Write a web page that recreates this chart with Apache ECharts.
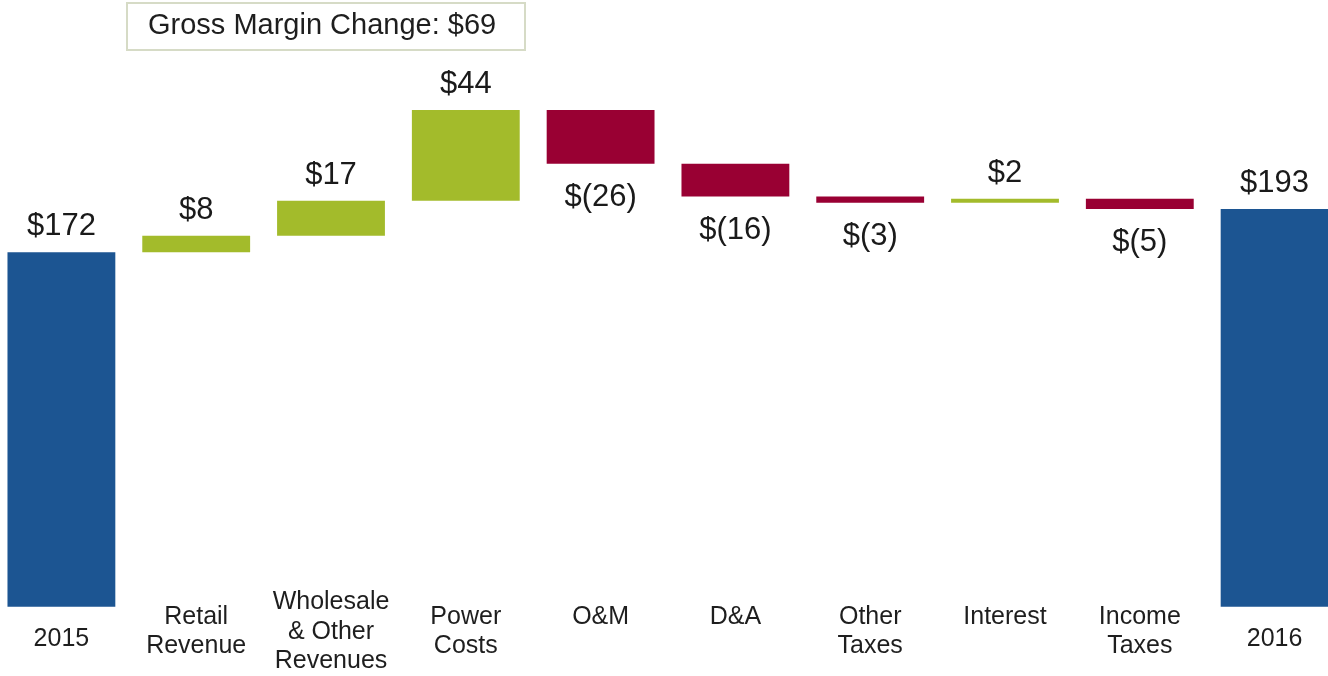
<!DOCTYPE html>
<html>
<head>
<meta charset="utf-8">
<script src="https://cdn.jsdelivr.net/npm/echarts@6/dist/echarts.min.js"></script>
<style>
  html, body { margin: 0; padding: 0; background: #fff; }
  #wrap { position: relative; width: 1328px; height: 676px; overflow: hidden; }
  /* plot is a bit wider than the window: first and last bars touch the edges */
  #box { position: absolute; left: -6px; top: 0; width: 1348px; height: 676px; }
</style>
</head>
<body>
<div id="wrap"><div id="box"></div></div>
<script>
// data
var categories = ['2015', 'Retail\nRevenue', 'Wholesale\n& Other\nRevenues', 'Power\nCosts', 'O&M', 'D&A', 'Other\nTaxes', 'Interest', 'Income\nTaxes', '2016'];
var startValue = 172;
var changes = [8, 17, 44, -26, -16, -3, 2, -5];
var endValue = 193;
var grossMarginItems = 3; // first three changes make up gross margin

var BLUE = '#1c5592', GREEN = '#a3bb2b', RED = '#990033';

// build waterfall stacks
var base = [0], visible = [startValue], colors = [BLUE], labelPos = ['top'];
var running = startValue;
changes.forEach(function (c) {
    var next = running + c;
    base.push(Math.min(running, next));
    visible.push(Math.abs(c));
    colors.push(c >= 0 ? GREEN : RED);
    labelPos.push(c >= 0 ? 'top' : 'bottom');
    running = next;
});
base.push(0);
visible.push(endValue);
colors.push(BLUE);
labelPos.push('top');

var gross = changes.slice(0, grossMarginItems).reduce(function (a, b) { return a + b; }, 0);

function money(i) {
    if (i === 0) return '$' + startValue;
    if (i === categories.length - 1) return '$' + endValue;
    var c = changes[i - 1];
    return c < 0 ? '$(' + (-c) + ')' : '$' + c;
}

// which rich style each category label uses (vertical placement)
function catStyle(v) {
    if (v === '2015' || v === '2016') return 'lo';
    if (v.indexOf('\n') < 0) return 'hi';
    return '';
}

var chart = echarts.init(document.getElementById('box'));
chart.setOption({
    animation: false,
    title: {
        text: 'Gross Margin Change: $' + gross,
        left: 133,
        top: 3,
        padding: [8, 29, 10, 21],
        borderColor: '#d6dbc6',
        borderWidth: 2,
        textStyle: {
            fontFamily: 'Liberation Sans',
            fontSize: 29,
            fontWeight: 'normal',
            color: '#1e1e1e'
        }
    },
    grid: {
        left: 0,
        right: 0,
        top: 91.5,
        bottom: 64,
        containLabel: false
    },
    xAxis: {
        type: 'category',
        data: categories,
        axisLine: { show: false },
        axisTick: { show: false },
        axisLabel: {
            interval: 0,
            margin: 25,
            verticalAlign: 'middle',
            fontFamily: 'Liberation Sans',
            fontSize: 25,
            lineHeight: 29.5,
            color: '#1e1e1e',
            formatter: function (v) {
                var s = catStyle(v);
                return s ? '{' + s + '|' + v + '}' : v;
            },
            rich: {
                hi: { fontFamily: 'Liberation Sans', fontSize: 25, lineHeight: 30, color: '#1e1e1e', padding: [0, 0, 30, 0] },
                lo: { fontFamily: 'Liberation Sans', fontSize: 25, lineHeight: 30, color: '#1e1e1e', padding: [14, 0, 0, 0] }
            }
        }
    },
    yAxis: {
        type: 'value',
        min: 0,
        max: 250,
        show: false,
        splitLine: { show: false }
    },
    series: [
        {
            type: 'bar',
            stack: 'w',
            barWidth: '80%',
            silent: true,
            itemStyle: { color: 'transparent' },
            data: base
        },
        {
            type: 'bar',
            stack: 'w',
            barWidth: '80%',
            data: visible.map(function (v, i) {
                return {
                    value: v,
                    itemStyle: { color: colors[i] },
                    label: {
                        position: labelPos[i],
                        distance: labelPos[i] === 'top' ? 10 : 18
                    }
                };
            }),
            label: {
                show: true,
                fontFamily: 'Liberation Sans',
                fontSize: 31,
                color: '#1a1a1a',
                formatter: function (p) { return money(p.dataIndex); }
            }
        }
    ]
});
</script>
</body>
</html>
